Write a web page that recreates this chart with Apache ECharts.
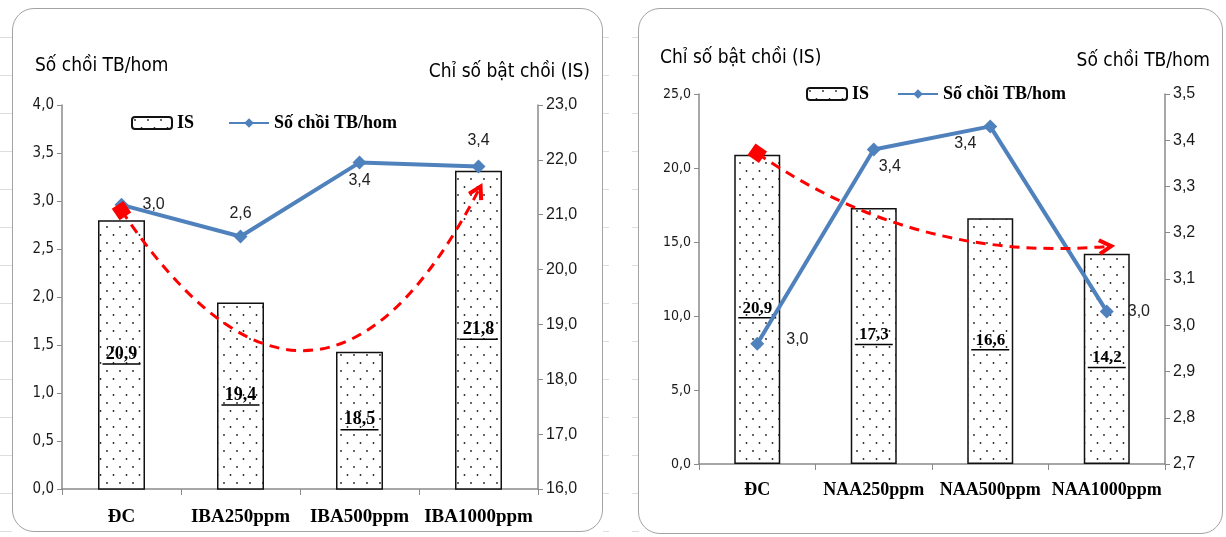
<!DOCTYPE html>
<html>
<head>
<meta charset="utf-8">
<script src="https://cdn.jsdelivr.net/npm/echarts/dist/echarts.min.js"></script>
<style>
  html, body { margin: 0; padding: 0; background: #fff; }
  body { width: 1226px; height: 537px; position: relative; overflow: hidden; }
  .panel { position: absolute; box-sizing: border-box; border: 1.5px solid #a3a3a3; border-radius: 22px; background: #fff; }
  .chart { position: absolute; top: 0; height: 537px; }
  .rows { position: absolute; top: 0; height: 537px;
          background: repeating-linear-gradient(to bottom, transparent 0, transparent 37px, #dedede 37px, #dedede 38px); }
</style>
</head>
<body>
<div class="rows" style="left:0;width:12px"></div>
<div class="rows" style="left:603px;width:6px"></div>
<div class="rows" style="left:632px;width:7px"></div>
<div class="panel" style="left:12px;top:8px;width:591px;height:524px"></div>
<div class="panel" style="left:638px;top:8px;width:585px;height:526px"></div>
<div id="chartIBA" class="chart" style="left:0;width:620px"></div>
<div id="chartNAA" class="chart" style="left:620px;width:606px"></div>
<script>
// ---- IBA treatments ----
const ibaCategories = ['ĐC', 'IBA250ppm', 'IBA500ppm', 'IBA1000ppm'];
const ibaIS = [20.9, 19.4, 18.5, 21.8];            // Chỉ số bật chồi (IS)
const ibaShoots = [2.96, 2.63, 3.40, 3.36];         // Số chồi TB/hom
const ibaTrend = [[0, 2.9], [3, 3.11]];             // trend arrow ends (category, shoots axis)

// ---- NAA treatments ----
const naaCategories = ['ĐC', 'NAA250ppm', 'NAA500ppm', 'NAA1000ppm'];
const naaIS = [20.9, 17.3, 16.6, 14.2];
const naaShoots = [2.96, 3.38, 3.43, 3.03];
const naaTrend = [[0, 21.0], [3, 14.7]];            // trend arrow ends (category, IS axis)

const NAME_IS = 'IS';
const NAME_SHOOTS = 'Số chồi TB/hom';
const TITLE_IS = 'Chỉ số bật chồi (IS)';

const fmt1 = v => Number(v).toFixed(1).replace('.', ',');

// dotted fill for the IS bars
function dotPattern() {
  const c = document.createElement('canvas');
  c.width = 13; c.height = 16;
  const g = c.getContext('2d');
  g.fillStyle = '#fff';
  g.fillRect(0, 0, 13, 16);
  g.fillStyle = '#222';
  [[3, 3], [9.5, 11]].forEach(([x, y]) => {
    g.beginPath(); g.arc(x, y, 0.9, 0, Math.PI * 2); g.fill();
  });
  return { image: c, repeat: 'repeat' };
}
const DOTS = dotPattern();

const ARROW = 'path://M10,0 L20,13 L16,15 L10,7 L4,15 L0,13 Z';
const AXIS_COLOR = '#8a8a8a';
const SERIF = '"Liberation Serif", "Times New Roman", serif';
const NARROW = '"Liberation Sans Narrow", "DejaVu Sans Condensed", "Liberation Sans", sans-serif';
const SANS = '"Liberation Sans", Arial, sans-serif';

function valueAxis(pos, min, max, interval, font, size) {
  return {
    type: 'value', position: pos, min: min, max: max, interval: interval,
    axisLine: { show: true, lineStyle: { color: AXIS_COLOR, width: 1.5 } },
    axisTick: { show: true, length: 5, lineStyle: { color: AXIS_COLOR } },
    splitLine: { show: false },
    axisLabel: { formatter: fmt1, fontFamily: font, fontSize: size, color: '#1a1a1a', margin: 8 }
  };
}

function categoryAxis(cats, size, margin) {
  return {
    type: 'category', data: cats,
    axisLine: { lineStyle: { color: AXIS_COLOR, width: 1.5 } },
    axisTick: { show: true, alignWithLabel: false, length: 6, lineStyle: { color: AXIS_COLOR } },
    axisLabel: { interval: 0, fontFamily: SERIF, fontWeight: 'bold', fontSize: size, color: '#000', margin: margin }
  };
}

function isBars(values, axisIndex, width, size) {
  return {
    name: NAME_IS, type: 'bar', yAxisIndex: axisIndex, data: values, barWidth: width, z: 2,
    itemStyle: { color: DOTS, borderColor: '#111', borderWidth: 1.5 },
    label: {
      show: true, position: 'inside',
      formatter: p => '{v|' + fmt1(p.value) + '}\n{u| }',
      rich: {
        v: { fontFamily: SERIF, fontWeight: 'bold', fontSize: size, color: '#000', lineHeight: size },
        u: { width: 38, height: 1.5, lineHeight: 2, fontSize: 1, backgroundColor: '#000' }
      }
    }
  };
}

function shootsLine(values, axisIndex, labelPlacement) {
  return {
    name: NAME_SHOOTS, type: 'line', yAxisIndex: axisIndex, z: 4,
    data: values.map((v, i) => ({ value: v, label: labelPlacement[i] })),
    symbol: 'diamond', symbolSize: 14,
    lineStyle: { color: '#4F81BD', width: 4 },
    itemStyle: { color: '#4F81BD' },
    label: { show: true, formatter: p => fmt1(p.value), fontFamily: SANS, fontSize: 16, color: '#222' }
  };
}

function trendArrow(coords, axisIndex, curveness) {
  return {
    type: 'lines', coordinateSystem: 'cartesian2d', yAxisIndex: axisIndex, z: 6, silent: true,
    symbol: ['rect', ARROW], symbolSize: [14, 17],
    lineStyle: { color: '#ff0000', width: 3, type: [10, 7], curveness: curveness, opacity: 1 },
    data: [{ coords: coords }]
  };
}

function legend(left, top, gap) {
  return {
    left: left, top: top, itemWidth: 40, itemHeight: 12, itemGap: gap,
    textStyle: { fontFamily: SERIF, fontWeight: 'bold', fontSize: 18, color: '#000' },
    data: [NAME_IS, NAME_SHOOTS]
  };
}

function axisTitle(text, pos, top) {
  return Object.assign({ type: 'text', top: top,
    style: { text: text, font: '19px ' + NARROW, fill: '#000' } }, pos);
}

// ---- chart 1: IBA ----
const c1 = echarts.init(document.getElementById('chartIBA'), null, { renderer: 'canvas' });
c1.setOption({
  animation: false,
  grid: { left: 62, right: 82, top: 105, bottom: 48 },
  legend: legend(126, 109, 34),
  xAxis: categoryAxis(ibaCategories, 19, 19),
  yAxis: [
    valueAxis('left', 0, 4, 0.5, NARROW, 15),
    valueAxis('right', 16, 23, 1, SANS, 16)
  ],
  graphic: [
    axisTitle(NAME_SHOOTS, { left: 35 }, 57),
    axisTitle(TITLE_IS, { right: 30 }, 63)
  ],
  series: [
    isBars(ibaIS, 1, 47, 18),
    shootsLine(ibaShoots, 0, [
      { position: 'right', distance: 14 },
      { position: 'top', distance: 8 },
      { position: 'bottom', distance: 3 },
      { position: 'top', distance: 11 }
    ]),
    trendArrow(ibaTrend, 0, -0.84)
  ]
});

// ---- chart 2: NAA ----
const c2 = echarts.init(document.getElementById('chartNAA'), null, { renderer: 'canvas' });
c2.setOption({
  animation: false,
  grid: { left: 79, right: 61, top: 94, bottom: 73 },
  legend: legend(181, 80, 28),
  xAxis: categoryAxis(naaCategories, 18, 17),
  yAxis: [
    valueAxis('left', 0, 25, 5, NARROW, 14),
    valueAxis('right', 2.7, 3.5, 0.1, SANS, 16)
  ],
  graphic: [
    axisTitle(TITLE_IS, { left: 40 }, 49),
    axisTitle(NAME_SHOOTS, { right: 16 }, 52)
  ],
  series: [
    isBars(naaIS, 0, 46, 17),
    shootsLine(naaShoots, 1, [
      { position: 'right', distance: 22, offset: [0, -4] },
      { position: 'bottom', distance: 2, offset: [16, 0] },
      { position: 'bottom', distance: 2, offset: [-25, 0] },
      { position: 'right', distance: 14 }
    ]),
    trendArrow(naaTrend, 0, -0.18)
  ]
});
</script>
</body>
</html>
